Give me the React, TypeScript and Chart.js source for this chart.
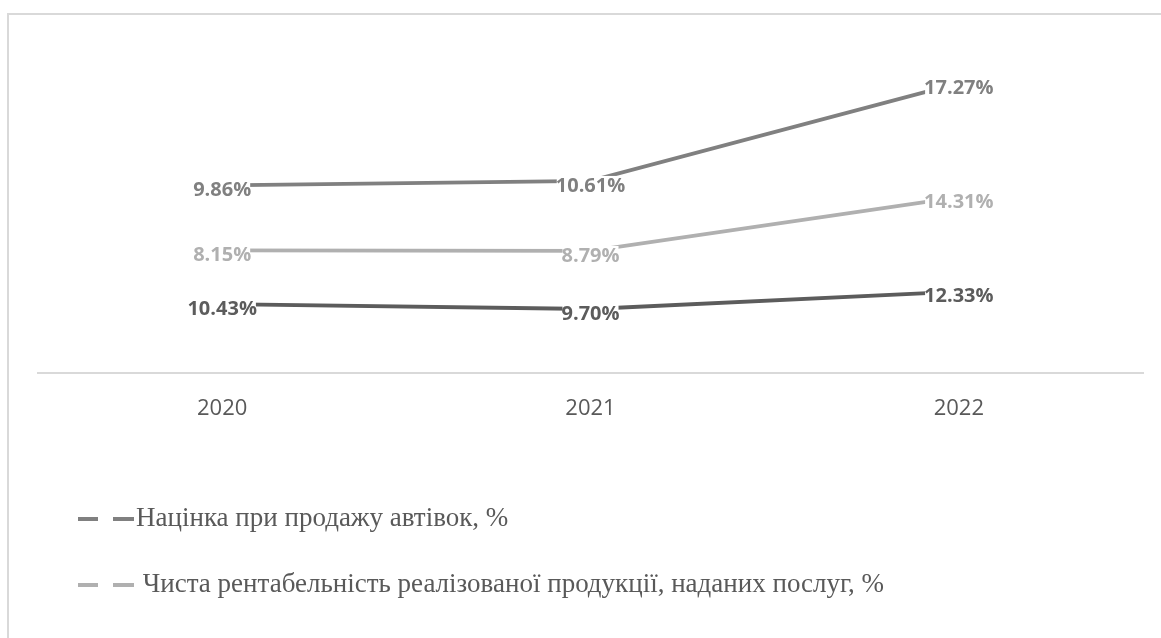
import React, { useEffect, useRef } from "react";
import { Chart, registerables } from "chart.js";

Chart.register(...registerables);

// Categories (years)
const years: string[] = ["2020", "2021", "2022"];

// Series values, in %, stacked bottom to top
const lowerSeriesValues: number[] = [10.43, 9.7, 12.33];
const netProfitabilityValues: number[] = [8.15, 8.79, 14.31];
const markupValues: number[] = [9.86, 10.61, 17.27];

// Series names shown in the legend
const markupLabel = "Націнка при продажу автівок, %";
const netProfitabilityLabel = " Чиста рентабельність реалізованої продукції, наданих послуг, %";

// Value-axis range (hidden axis)
const valueAxisMin = 0;
const valueAxisMax = 50;

const COLOR_DARK = "#5c5c5c";
const COLOR_LIGHT = "#b0b0b0";
const COLOR_MID = "#808080";
const FRAME_COLOR = "#d9d9d9";
const TEXT_COLOR = "#595959";

// Thin frame around the chart
const framePlugin = {
  id: "frame",
  beforeDraw(chart: any) {
    const { ctx, width, height } = chart;
    ctx.save();
    ctx.fillStyle = "#ffffff";
    ctx.fillRect(0, 0, width, height);
    ctx.strokeStyle = FRAME_COLOR;
    ctx.lineWidth = 2;
    ctx.beginPath();
    ctx.moveTo(8, height);
    ctx.lineTo(8, 14);
    ctx.lineTo(width, 14);
    ctx.stroke();
    ctx.restore();
  },
};

// Value labels centred on each point, on a white box
const valueLabelPlugin = {
  id: "valueLabels",
  afterDatasetsDraw(chart: any) {
    const { ctx } = chart;
    ctx.save();
    ctx.font = 'bold 20px "Open Sans"';
    ctx.textAlign = "center";
    ctx.textBaseline = "middle";
    chart.data.datasets.forEach((ds: any, i: number) => {
      const meta = chart.getDatasetMeta(i);
      meta.data.forEach((pt: any, j: number) => {
        const txt = Number(ds.data[j]).toFixed(2) + "%";
        const w = ctx.measureText(txt).width;
        const cx = pt.x;
        const cy = pt.y + 5;
        ctx.fillStyle = "#ffffff";
        ctx.fillRect(cx - w / 2 + 1, cy - 10, w - 2, 20);
        ctx.fillStyle = ds.borderColor;
        ctx.fillText(txt, cx, cy);
      });
    });
    ctx.restore();
  },
};

// Legend drawn as a vertical list under the plot
const legendPlugin = {
  id: "listLegend",
  afterDraw(chart: any) {
    const { ctx } = chart;
    const entries = chart.data.datasets.filter((d: any) => d.label).slice().reverse();
    ctx.save();
    entries.forEach((ds: any, k: number) => {
      const y = 519 + k * 66;
      ctx.strokeStyle = ds.borderColor;
      ctx.lineWidth = 4;
      ctx.lineCap = "butt";
      ctx.beginPath();
      ctx.moveTo(78, y);
      ctx.lineTo(98, y);
      ctx.moveTo(113, y);
      ctx.lineTo(134, y);
      ctx.stroke();
      ctx.font = '27px "Liberation Serif"';
      ctx.fillStyle = TEXT_COLOR;
      ctx.textAlign = "left";
      ctx.textBaseline = "middle";
      ctx.fillText(ds.label, 136, y);
    });
    ctx.restore();
  },
};

export default function App() {
  const canvasRef = useRef<HTMLCanvasElement | null>(null);

  useEffect(() => {
    if (!canvasRef.current) return;
    const chart = new Chart(canvasRef.current, {
      type: "line",
      data: {
        labels: years,
        datasets: [
          {
            label: "",
            data: lowerSeriesValues,
            borderColor: COLOR_DARK,
            backgroundColor: COLOR_DARK,
            borderWidth: 3.8,
            pointRadius: 0,
            tension: 0,
            fill: false,
          },
          {
            label: netProfitabilityLabel,
            data: netProfitabilityValues,
            borderColor: COLOR_LIGHT,
            backgroundColor: COLOR_LIGHT,
            borderWidth: 3.8,
            pointRadius: 0,
            tension: 0,
            fill: false,
          },
          {
            label: markupLabel,
            data: markupValues,
            borderColor: COLOR_MID,
            backgroundColor: COLOR_MID,
            borderWidth: 3.8,
            pointRadius: 0,
            tension: 0,
            fill: false,
          },
        ],
      },
      options: {
        animation: false,
        responsive: false,
        layout: { padding: { left: 38, right: 18, top: 43, bottom: 0 } },
        plugins: {
          legend: { display: false },
          tooltip: { enabled: false },
        },
        scales: {
          x: {
            offset: true,
            grid: { display: false, drawTicks: false },
            border: { display: true, color: FRAME_COLOR, width: 2 },
            ticks: {
              color: TEXT_COLOR,
              padding: 23,
              font: { family: "Open Sans", size: 22 },
            },
            afterFit(scale: any) {
              scale.height = 265;
            },
          },
          y: {
            display: false,
            stacked: true,
            min: valueAxisMin,
            max: valueAxisMax,
          },
        },
      },
      plugins: [framePlugin, valueLabelPlugin, legendPlugin],
    });
    return () => chart.destroy();
  }, []);

  return (
    <div style={{ position: "fixed", left: 0, top: 0, width: 1161, height: 638, overflow: "hidden", background: "#fff" }}>
      <canvas ref={canvasRef} width={1161} height={638} style={{ display: "block", width: 1161, height: 638 }} />
    </div>
  );
}
